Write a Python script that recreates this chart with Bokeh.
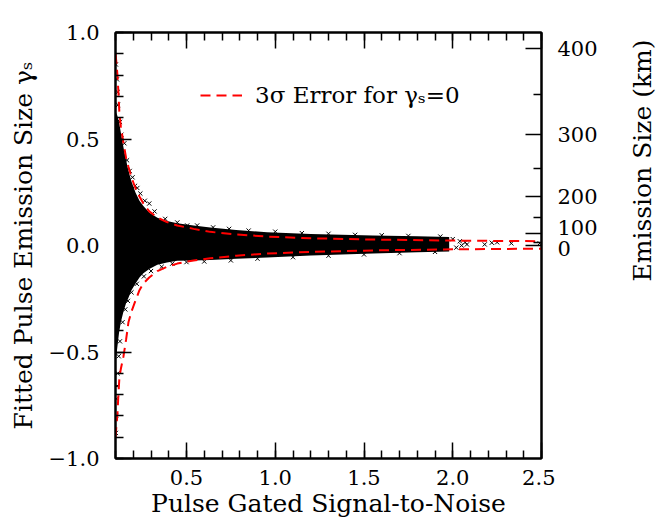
from bokeh.plotting import figure
from bokeh.layouts import row
from bokeh.models import LinearAxis, FixedTicker, Range1d, Legend, LegendItem
from bokeh.core.properties import value
from bokeh.embed import file_html
from bokeh.resources import INLINE

# ---------------- data ----------------
# 3-sigma error curves for gamma_s = 0
curve_x = [0.100, 0.105, 0.111, 0.117, 0.122, 0.130, 0.145, 0.160, 0.173, 0.190, 0.212, 0.235,
           0.257, 0.290, 0.336, 0.390, 0.448, 0.540, 0.634, 0.780, 0.954, 1.200, 1.550, 2.000, 2.500]
curve_upper = [0.90, 0.86, 0.80, 0.71, 0.62, 0.56, 0.48, 0.41, 0.37, 0.32, 0.27, 0.23,
               0.197, 0.160, 0.131, 0.110, 0.094, 0.078, 0.064, 0.052, 0.042, 0.034, 0.028, 0.023, 0.020]
curve_lower = [-0.90, -0.85, -0.79, -0.69, -0.62, -0.58, -0.52, -0.44, -0.36, -0.31, -0.26, -0.21,
               -0.178, -0.150, -0.120, -0.100, -0.085, -0.070, -0.060, -0.048, -0.038, -0.030, -0.023, -0.018, -0.015]

# envelope of the dense cloud of fitted pulses
cloud_x = [0.100, 0.110, 0.120, 0.130, 0.145, 0.160, 0.173, 0.190, 0.212, 0.235, 0.257, 0.290,
           0.336, 0.390, 0.448, 0.540, 0.634, 0.780, 0.954, 1.200, 1.550, 1.800, 1.980]
cloud_top = [0.63, 0.61, 0.58, 0.53, 0.46, 0.40, 0.35, 0.30, 0.25, 0.21, 0.185, 0.155,
             0.130, 0.115, 0.105, 0.094, 0.085, 0.073, 0.062, 0.054, 0.047, 0.043, 0.040]
cloud_bot = [-0.55, -0.48, -0.41, -0.36, -0.31, -0.27, -0.245, -0.21, -0.18, -0.15, -0.13, -0.11,
             -0.09, -0.08, -0.072, -0.070, -0.068, -0.062, -0.056, -0.047, -0.038, -0.032, -0.028]

# sparse individual pulses at the edge of the cloud and in the tail
sparse_x = [0.102, 0.108, 0.112, 0.115, 0.125, 0.133, 0.150, 0.165, 0.180, 0.196, 0.210, 0.223,
            0.240, 0.265, 0.290, 0.320, 0.380, 0.448, 0.504, 0.560, 0.650, 0.740, 0.850, 1.000,
            1.150, 1.300, 1.450, 1.600, 1.750, 1.930,
            0.102, 0.104, 0.106, 0.108, 0.112, 0.118, 0.125, 0.140, 0.155, 0.170, 0.190, 0.220,
            0.260, 0.300, 0.360, 0.420, 0.500, 0.600, 0.750, 0.900, 1.100, 1.300, 1.500, 1.700, 1.900,
            2.000, 2.020, 2.040, 2.050, 2.070, 2.080, 2.180, 2.220, 2.250, 2.330, 2.490]
sparse_y = [0.85, 0.78, 0.72, 0.66, 0.58, 0.52, 0.48, 0.40, 0.35, 0.32, 0.28, 0.27,
            0.244, 0.21, 0.197, 0.16, 0.125, 0.108, 0.094, 0.094, 0.085, 0.078, 0.070, 0.065,
            0.058, 0.055, 0.050, 0.048, 0.045, 0.042,
            -0.88, -0.80, -0.72, -0.66, -0.60, -0.52, -0.45, -0.36, -0.30, -0.26, -0.22, -0.18,
            -0.145, -0.12, -0.10, -0.085, -0.078, -0.075, -0.070, -0.062, -0.055, -0.048, -0.042, -0.036, -0.030,
            0.030, -0.010, 0.020, 0.000, 0.015, 0.005, 0.005, 0.013, 0.015, 0.010, 0.010]

# axes
x_ticks = [0.5, 1.0, 1.5, 2.0, 2.5]
x_tick_labels = ["0.5", "1.0", "1.5", "2.0", "2.5"]
y_ticks = [-1.0, -0.5, 0.0, 0.5, 1.0]
y_tick_labels = ["\u22121.0", "\u22120.5", "0.0", "0.5", "1.0"]
size_ticks_km = [0, 100, 200, 300, 400]
size_minor_km = [50, 150, 250, 350]
size_tick_labels = ["0", "100", "200", "300", "400"]
size_label_shift_px = [-3, 6, 0, 0, 0]
gamma_per_km2 = 0.925 / 400.0 ** 2   # gamma_s = k * size^2
right_title = "Emission Size (km)"

X0, X1, Y0, Y1 = 0.1, 2.5, -1.0, 1.0
FONT = "DejaVu Serif"
TICK_FS = "21px"
TITLE_FS = "25px"
FRAME = 426
B_LEFT, B_RIGHT, B_TOP, B_BOTTOM = 115, 14, 32, 65
SIDE_W = 660 - B_LEFT - FRAME - B_RIGHT

p = figure(frame_width=FRAME, frame_height=FRAME, x_range=Range1d(X0, X1), y_range=Range1d(Y0, Y1),
           output_backend="svg", toolbar_location=None,
           min_border_left=B_LEFT, min_border_right=B_RIGHT, min_border_top=B_TOP,
           min_border_bottom=B_BOTTOM)
p.background_fill_color = "white"
p.border_fill_color = "white"
p.grid.visible = False
p.outline_line_color = "black"
p.outline_line_width = 2

x_minor = [round(0.1 * i, 1) for i in range(1, 26)]
y_minor = [round(-1.0 + 0.1 * i, 1) for i in range(0, 21)]
dy = (Y1 - Y0) / FRAME


def style(ax):
    ax.axis_line_color = "black"
    ax.axis_line_width = 2
    ax.major_tick_in = 16
    ax.major_tick_out = 0
    ax.minor_tick_in = 8
    ax.minor_tick_out = 0
    ax.major_tick_line_color = "black"
    ax.minor_tick_line_color = "black"
    ax.major_tick_line_width = 1.5
    ax.minor_tick_line_width = 1.5
    ax.major_label_text_font = FONT
    ax.major_label_text_font_size = TICK_FS
    ax.major_label_text_color = "black"
    ax.axis_label_text_font = FONT
    ax.axis_label_text_font_size = TITLE_FS
    ax.axis_label_text_font_style = "normal"
    ax.axis_label_text_color = "black"


xa = p.xaxis[0]
style(xa)
xa.ticker = FixedTicker(ticks=x_ticks, minor_ticks=x_minor)
xa.major_label_overrides = dict(zip(x_ticks, x_tick_labels))
xa.major_label_standoff = 11
xa.axis_label = "Pulse Gated Signal-to-Noise"
xa.axis_label_standoff = 1

ya = p.yaxis[0]
style(ya)
ya.ticker = FixedTicker(ticks=y_ticks, minor_ticks=y_minor)
ya.major_label_overrides = dict(zip(y_ticks, y_tick_labels))
ya.major_label_standoff = 16
ya.axis_label = "Fitted Pulse Emission Size \u03b3\u209b"
ya.axis_label_standoff = 8

# top axis: ticks only
top = LinearAxis(ticker=FixedTicker(ticks=x_ticks, minor_ticks=x_minor))
style(top)
top.major_label_overrides = {t: "" for t in x_ticks}
top.major_label_standoff = 0
p.add_layout(top, "above")

# right axis (emission size): ticks only, on the frame edge
size_gamma = [gamma_per_km2 * s * s for s in size_ticks_km]
size_minor_gamma = [gamma_per_km2 * s * s for s in size_minor_km]
right = LinearAxis(ticker=FixedTicker(ticks=size_gamma, minor_ticks=size_minor_gamma))
style(right)
right.major_label_overrides = {g: "" for g in size_gamma}
right.major_label_standoff = 0
p.add_layout(right, "right")

# ---------------- marks ----------------
p.varea(x=cloud_x, y1=cloud_bot, y2=cloud_top, fill_color="black", fill_alpha=1.0)
p.scatter(x=sparse_x, y=sparse_y, marker="x", size=6, line_color="black", line_width=1)
up = p.line(curve_x, curve_upper, line_color="#ff0000", line_width=2, line_dash="10 6")
p.line(curve_x, curve_lower, line_color="#ff0000", line_width=2, line_dash="10 6")

legend = Legend(items=[LegendItem(label="3\u03c3 Error for \u03b3\u209b=0", renderers=[up])],
                location=(85, 350), glyph_width=42, glyph_height=20, label_standoff=13,
                padding=0, margin=0, spacing=0, border_line_color=None,
                background_fill_alpha=0, label_text_font=FONT, label_text_font_size="23px",
                label_text_color="black")
p.add_layout(legend, "center")

# ---------------- right-hand strip: size labels and title (same vertical scale) ----------------
side = figure(frame_width=SIDE_W, frame_height=FRAME, x_range=Range1d(0, SIDE_W),
              y_range=Range1d(Y0, Y1), x_axis_location=None, y_axis_location=None,
              output_backend="svg", toolbar_location=None,
              min_border_left=0, min_border_right=0, min_border_top=B_TOP,
              min_border_bottom=B_BOTTOM)
side.grid.visible = False
side.outline_line_color = None
side.background_fill_color = "white"
side.border_fill_color = "white"

label_pos = [g + sh * dy for g, sh in zip(size_gamma, size_label_shift_px)]
side.text(x=[16 - B_RIGHT] * len(label_pos), y=label_pos, text=size_tick_labels,
          text_align="left", text_baseline="middle", text_font=value(FONT),
          text_font_size=TICK_FS, text_color="black")
side.text(x=[87], y=[Y1 - 128 * dy], text=[right_title],
          angle=90, angle_units="deg", text_align="center", text_baseline="middle",
          text_font=value(FONT), text_font_size=TITLE_FS, text_color="black")

layout = row(p, side)
open("out.html", "w").write(file_html(layout, INLINE))
